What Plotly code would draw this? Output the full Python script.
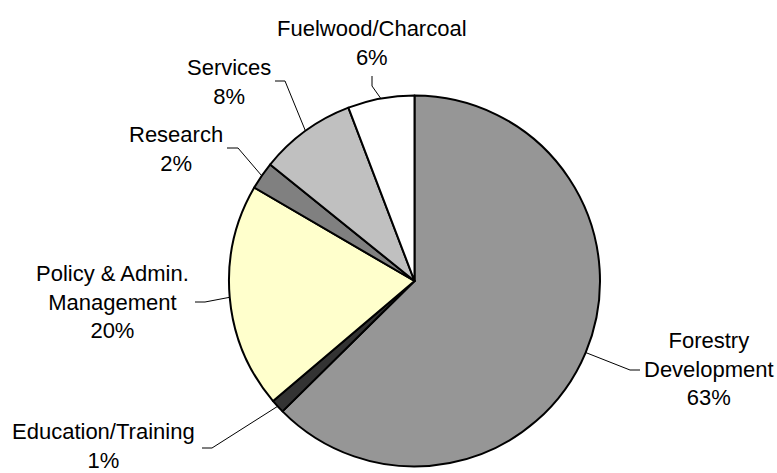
import math
import plotly.graph_objects as go

# ---- data ----
categories = ["Forestry<br>Development", "Education/Training", "Policy & Admin.<br>Management",
              "Research", "Services", "Fuelwood/Charcoal"]
shares = [62.6, 1.2, 19.6, 2.4, 8.4, 5.8]
colors = ["#969696", "#333333", "#FFFFCC", "#808080", "#C0C0C0", "#FFFFFF"]

# ---- layout constants (pixels) ----
W, H = 777, 473
CX, CY, R = 414.5, 281.0, 185.5
FONT = "Liberation Sans, Arial, sans-serif"
FS = 22

# label block centres and leader elbows (pixel positions, layout only)
label_pos = [(709, 369), (103.5, 446), (112.5, 302), (176, 149), (229, 82.5), (372, 43)]
leader_start = [((640, 370), (630, 370)),
                ((202, 448), (212, 448)),
                ((195, 302), (205, 302)),
                ((227, 148), (238, 148)),
                ((275, 81), (285, 81)),
                ((372, 76), (372, 86))]


def px(x):
    return x / W


def py(y):
    return 1 - y / H


fig = go.Figure(go.Pie(
    labels=categories,
    values=shares,
    sort=False,
    direction="clockwise",
    rotation=0,
    marker=dict(colors=colors, line=dict(color="black", width=2)),
    textinfo="none",
    hoverinfo="label+percent",
    domain=dict(x=[px(CX - R), px(CX + R)], y=[py(CY + R), py(CY - R)]),
    showlegend=False,
))

total = sum(shares)
cum = 0.0
annotations = []
shapes = []
for i, (cat, v) in enumerate(zip(categories, shares)):
    mid = (cum + v / 2) / total * 2 * math.pi
    cum += v
    ex = CX + R * math.sin(mid)
    ey = CY - R * math.cos(mid)
    (ax, ay), (bx, by) = leader_start[i]
    shapes.append(dict(
        type="path", xref="paper", yref="paper",
        path=f"M {px(ax)} {py(ay)} L {px(bx)} {py(by)} L {px(ex)} {py(ey)}",
        line=dict(color="black", width=1),
    ))
    pct = round(v / total * 100)
    lx, ly = label_pos[i]
    annotations.append(dict(
        x=px(lx), y=py(ly), xref="paper", yref="paper",
        text=f"{cat}<br>{pct}%", showarrow=False,
        xanchor="center", yanchor="middle", align="center",
        font=dict(family=FONT, size=FS, color="black"),
    ))

fig.update_layout(
    width=W, height=H,
    margin=dict(l=0, r=0, t=0, b=0),
    paper_bgcolor="white", plot_bgcolor="white",
    annotations=annotations,
    shapes=shapes,
)

fig.write_html("out.html")
